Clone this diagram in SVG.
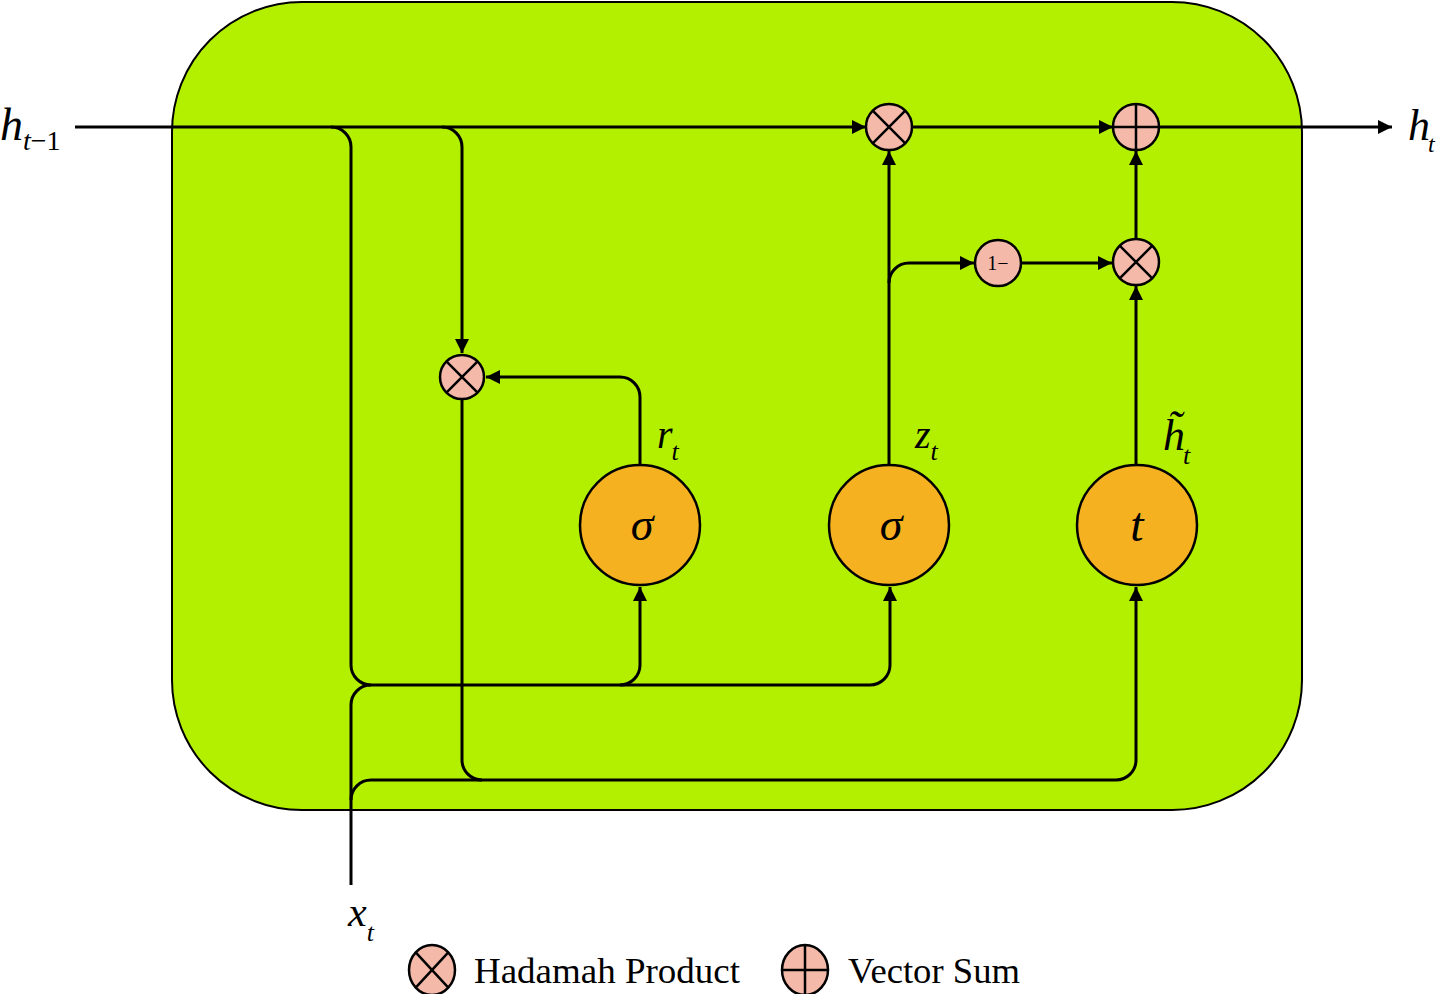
<svg xmlns="http://www.w3.org/2000/svg" width="1437" height="994" viewBox="0 0 1437 994">
<defs>
<marker id="arr" viewBox="0 0 10 10" refX="10" refY="5" markerWidth="16" markerHeight="14" markerUnits="userSpaceOnUse" orient="auto"><path d="M0,0 L10,5 L0,10 z" fill="#000"/></marker>
<style>
.w{fill:none;stroke:#000;stroke-width:3}
.a{marker-end:url(#arr)}
.op{fill:#f4b9a9;stroke:#000;stroke-width:2.5}
.g{fill:#f5b120;stroke:#000;stroke-width:2.5}
.x{stroke:#000;stroke-width:2.5}
.m{font-family:"Liberation Serif",serif;font-style:italic;fill:#000}
.l{font-family:"Liberation Serif",serif;fill:#000}
</style>
</defs>
<rect x="172" y="2" width="1130" height="808" rx="130" ry="130" fill="#b3f000" stroke="#000" stroke-width="2"/>
<g id="connectors">
<path class="w a" d="M75,127 H866"/>
<path class="w a" d="M912,127 H1113"/>
<path class="w a" d="M1159,127 H1392"/>
<path class="w a" d="M331,127 A20,20 0 0 1 351,147 V665 A20,20 0 0 0 371,685 H620 A20,20 0 0 0 640,665 V587"/>
<path class="w a" d="M620,685 H870 A20,20 0 0 0 890,665 V587"/>
<path class="w" d="M351,885 V705 A20,20 0 0 1 371,685"/>
<path class="w a" d="M351,800 A20,20 0 0 1 371,780 H1116 A20,20 0 0 0 1136,760 V587"/>
<path class="w a" d="M442,127 A20,20 0 0 1 462,147 V353"/>
<path class="w" d="M462,400 V760 A20,20 0 0 0 482,780"/>
<path class="w a" d="M640,465 V397 A20,20 0 0 0 620,377 H486"/>
<path class="w a" d="M889,465 V151"/>
<path class="w a" d="M889,283 A20,20 0 0 1 909,263 H974"/>
<path class="w a" d="M1021,263 H1112"/>
<path class="w a" d="M1136,465 V286"/>
<path class="w a" d="M1136,239 V151"/>
</g>
<g id="mul_reset"><circle class="op" cx="462" cy="377" r="22"/><path class="x" d="M446.4,361.4 L477.6,392.6 M477.6,361.4 L446.4,392.6"/></g>
<g id="mul_top"><circle class="op" cx="889" cy="127" r="23"/><path class="x" d="M872.7,110.7 L905.3,143.3 M905.3,110.7 L872.7,143.3"/></g>
<g id="sum_top"><circle class="op" cx="1136" cy="127" r="23"/><path class="x" d="M1113,127 H1159 M1136,104 V150"/></g>
<g id="mul_mid"><circle class="op" cx="1136" cy="262" r="23"/><path class="x" d="M1119.7,245.7 L1152.3,278.3 M1152.3,245.7 L1119.7,278.3"/></g>
<g id="one_minus"><circle class="op" cx="998" cy="263" r="23"/><text class="l" x="998" y="270" font-size="20" text-anchor="middle">1−</text></g>
<g id="gate_r"><circle class="g" cx="640" cy="525" r="60"/><text class="m" x="642" y="540" font-size="46" text-anchor="middle">σ</text></g>
<g id="gate_z"><circle class="g" cx="889" cy="525" r="60"/><text class="m" x="891" y="540" font-size="46" text-anchor="middle">σ</text></g>
<g id="gate_t"><circle class="g" cx="1137" cy="525" r="60"/><text class="m" x="1137" y="541" font-size="48" text-anchor="middle">t</text></g>
<g id="labels">
<text class="m" x="0" y="140" font-size="46">h<tspan font-size="28" dx="0" dy="10">t</tspan><tspan font-style="normal" font-size="28">−1</tspan></text>
<text class="m" x="1408" y="140" font-size="44">h<tspan font-size="24" dx="-2" dy="12">t</tspan></text>
<text class="m" x="348" y="926" font-size="42">x<tspan font-size="26" dx="0" dy="15">t</tspan></text>
<text class="m" x="657" y="448" font-size="40">r<tspan font-size="26" dx="-1" dy="12">t</tspan></text>
<text class="m" x="915" y="448" font-size="40">z<tspan font-size="26" dx="0" dy="12">t</tspan></text>
<text class="m" x="1163" y="450" font-size="44">h̃<tspan font-size="26" dx="-2" dy="14">t</tspan></text>
</g>
<g id="legend">
<ellipse class="op" cx="432" cy="970" rx="23" ry="25"/><path class="x" d="M415.7,952.3 L448.3,987.7 M448.3,952.3 L415.7,987.7"/>
<text class="l" x="474" y="983" font-size="36" textLength="266" lengthAdjust="spacingAndGlyphs">Hadamah Product</text>
<ellipse class="op" cx="805" cy="970" rx="23" ry="25"/><path class="x" d="M782,970 H828 M805,945 V995"/>
<text class="l" x="848" y="983" font-size="36" textLength="172" lengthAdjust="spacingAndGlyphs">Vector Sum</text>
</g>
</svg>
